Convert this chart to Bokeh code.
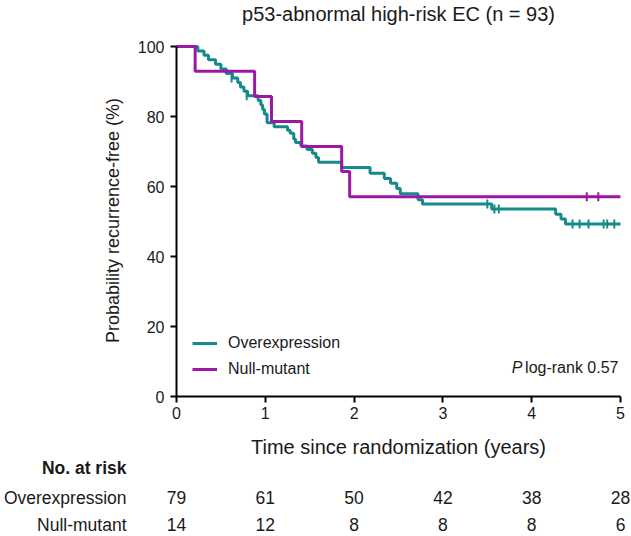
import math
from bokeh.plotting import figure
from bokeh.models import (Range1d, Label, Legend, LegendItem, FixedTicker, LinearAxis)
from bokeh.core.properties import value
from bokeh.embed import file_html
from bokeh.resources import INLINE

# ---------------- data ----------------
title_text = "p53-abnormal high-risk EC (n = 93)"
x_label = "Time since randomization (years)"
y_label = "Probability recurrence-free (%)"
series_names = ["Overexpression", "Null-mutant"]

# Overexpression KM curve (step times in years, survival % after step)
over_t = [0.0, 0.24, 0.31, 0.36, 0.44, 0.50, 0.56, 0.63, 0.69, 0.72, 0.76, 0.80,
          0.92, 0.95, 0.97, 0.99, 1.02, 1.10, 1.25, 1.28, 1.32, 1.34, 1.40, 1.47,
          1.53, 1.57, 1.60, 1.86, 2.18, 2.34, 2.41, 2.48, 2.52, 2.72, 2.77, 3.55,
          4.27, 4.33, 4.38, 5.0]
over_s = [100.0, 98.7, 97.5, 96.2, 94.9, 93.6, 92.3, 91.0, 89.7, 88.4, 87.2, 85.9,
          84.6, 83.3, 82.0, 80.7, 78.2, 77.1, 76.1, 75.2, 73.6, 72.6, 71.6, 70.6,
          69.5, 68.3, 66.9, 65.4, 63.8, 62.3, 60.9, 59.4, 57.9, 56.2, 55.0, 53.6,
          52.1, 50.7, 49.3, 49.3]
over_cens_t = [0.62, 0.79, 3.50, 3.58, 3.63, 4.46, 4.54, 4.64, 4.81, 4.85, 4.93]
over_cens_s = [91.0, 85.9, 55.0, 53.6, 53.6, 49.3, 49.3, 49.3, 49.3, 49.3, 49.3]

# Null-mutant KM curve
null_t = [0.0, 0.21, 0.88, 1.07, 1.41, 1.86, 1.95, 5.0]
null_s = [100.0, 92.9, 85.7, 78.6, 71.4, 64.3, 57.1, 57.1]
null_cens_t = [4.62, 4.75]
null_cens_s = [57.1, 57.1]

# Numbers at risk
risk_times = [0, 1, 2, 3, 4, 5]
risk_over = [79, 61, 50, 42, 38, 28]
risk_null = [14, 12, 8, 8, 8, 6]
risk_header = "No. at risk"
y_ticks = [0, 20, 40, 60, 80, 100]

pvalue_text = "log-rank 0.57"

# ---------------- styles / layout helpers ----------------
TEAL = "#158a8b"
PURPLE = "#9c17a6"
FONT = "Liberation Sans"
TXT = "#1a1a1a"
W, H = 631, 536
X0, XPX = 176, 88.8      # pixel of t=0, pixels per year
Y0, YPX = 396, 3.5       # pixel of 0 %, pixels per percent


def px_to_t(px):
    return (px - X0) / XPX


def py_to_v(py):
    return (Y0 - py) / YPX


p = figure(width=W, height=H, output_backend="svg", toolbar_location=None,
           x_range=Range1d(px_to_t(0), px_to_t(W)),
           y_range=Range1d(py_to_v(H), py_to_v(0)),
           x_axis_type=None, y_axis_type=None,
           min_border=0, min_border_left=0, min_border_right=0,
           min_border_top=0, min_border_bottom=0)
p.outline_line_color = None
p.background_fill_color = "white"

xaxis = LinearAxis(fixed_location=0, bounds=(0, 5),
                   ticker=FixedTicker(ticks=risk_times))
yaxis = LinearAxis(fixed_location=0, bounds=(0, 100),
                   ticker=FixedTicker(ticks=y_ticks))
for ax in (xaxis, yaxis):
    ax.axis_line_width = 2
    ax.axis_line_color = "black"
    ax.major_tick_line_width = 2
    ax.major_tick_line_color = "black"
    ax.major_tick_out = 6
    ax.major_tick_in = 0
    ax.minor_tick_out = 0
    ax.minor_tick_in = 0
    ax.major_label_text_font = FONT
    ax.major_label_text_font_size = "16px"
    ax.major_label_text_color = TXT
xaxis.major_label_standoff = 4
yaxis.major_label_standoff = 6
p.add_layout(xaxis, "below")
p.add_layout(yaxis, "left")

# curves
r_over = p.step(over_t, over_s, mode="after", line_color=TEAL, line_width=3)
r_null = p.step(null_t, null_s, mode="after", line_color=PURPLE, line_width=3)
p.scatter(over_cens_t, over_cens_s, marker="dash", angle=math.pi / 2, size=9,
          line_color=TEAL, line_width=2)
p.scatter(null_cens_t, null_cens_s, marker="dash", angle=math.pi / 2, size=9,
          line_color=PURPLE, line_width=2)

legend = Legend(items=[LegendItem(label=series_names[0], renderers=[r_over]),
                       LegendItem(label=series_names[1], renderers=[r_null])],
                location=(192, H - 379), border_line_color=None,
                background_fill_alpha=0, padding=0, margin=0, spacing=6,
                glyph_width=25, glyph_height=20, label_standoff=11,
                label_text_font=FONT, label_text_font_size="16px",
                label_text_color=TXT, label_height=20)
p.add_layout(legend)


def add_text(px, py, text, align="center", size="16px", style="normal", angle=0.0):
    p.add_layout(Label(x=px_to_t(px), y=py_to_v(py), text=text, text_align=align,
                       text_baseline="middle", text_font=FONT, text_font_size=size,
                       text_font_style=style, text_color=TXT, angle=angle))


# P log-rank
add_text(618, 367, pvalue_text, align="right")
add_text(522, 367, "P", align="right", style="italic")

# title and axis titles
add_text(398, 13, title_text, size="20px")
add_text(398, 446, x_label, size="20px")
add_text(112, 220, y_label, size="18px", angle=math.pi / 2)

# risk table
RISK_FS = "17.5px"
lab_px = 126
add_text(lab_px, 467, risk_header, align="right", style="bold", size=RISK_FS)
row_py = [497, 524]
for name, py, counts in zip(series_names, row_py, [risk_over, risk_null]):
    add_text(lab_px, py, name, align="right", size=RISK_FS)
    p.text(x=risk_times, y=[py_to_v(py)] * len(risk_times),
           text=[str(c) for c in counts], text_align="center",
           text_baseline="middle", text_font=value(FONT), text_font_size=RISK_FS,
           text_color=TXT)

open("out.html", "w").write(file_html(p, INLINE))
